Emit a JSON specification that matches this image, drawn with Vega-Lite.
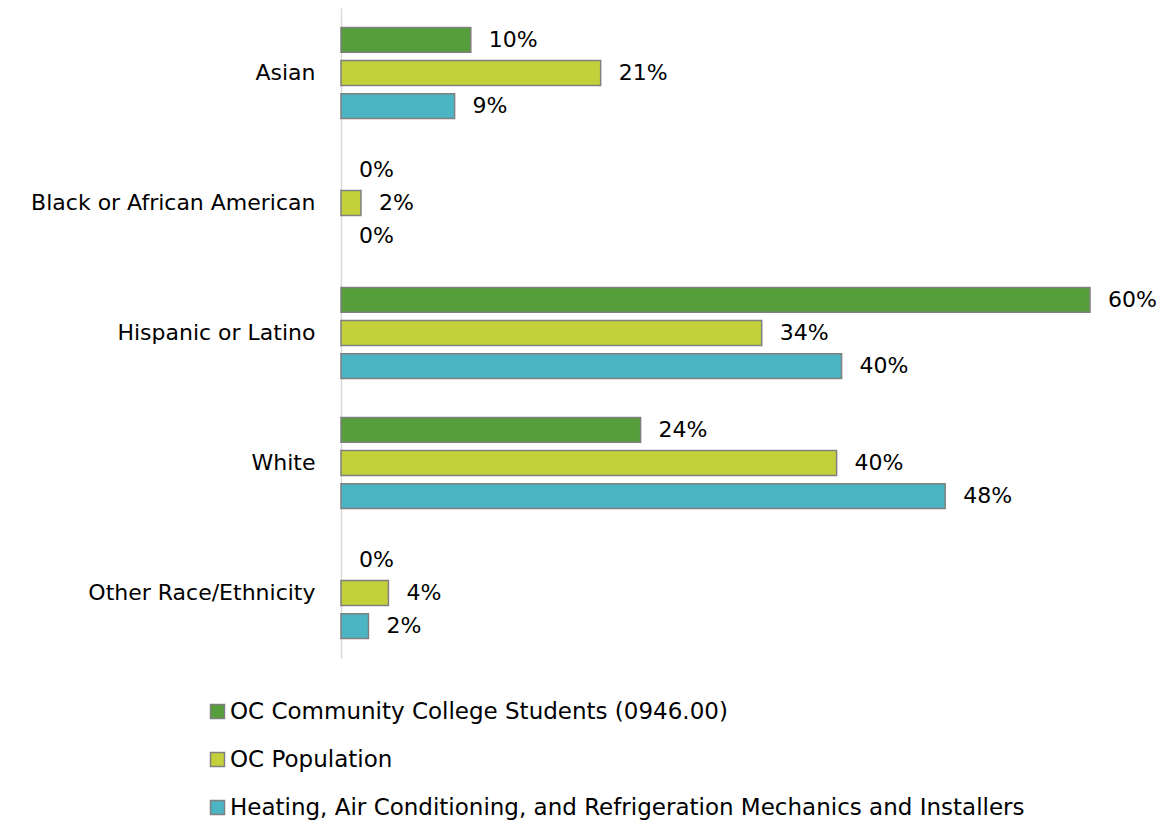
{
  "$schema": "https://vega.github.io/schema/vega-lite/v6.json",
  "width": 749,
  "height": 650,
  "autosize": "none",
  "padding": {"left": 341, "top": 8, "right": 78, "bottom": 162},
  "config": {"view": {"stroke": null}, "font": "DejaVu Sans"},
  "data": {
    "values": [
      {"category": "Asian", "series": "OC Community College Students (0946.00)", "value": 0.104},
      {"category": "Asian", "series": "OC Population", "value": 0.208},
      {"category": "Asian", "series": "Heating, Air Conditioning, and Refrigeration Mechanics and Installers", "value": 0.091},
      {"category": "Black or African American", "series": "OC Community College Students (0946.00)", "value": 0.0},
      {"category": "Black or African American", "series": "OC Population", "value": 0.016},
      {"category": "Black or African American", "series": "Heating, Air Conditioning, and Refrigeration Mechanics and Installers", "value": 0.0},
      {"category": "Hispanic or Latino", "series": "OC Community College Students (0946.00)", "value": 0.60},
      {"category": "Hispanic or Latino", "series": "OC Population", "value": 0.337},
      {"category": "Hispanic or Latino", "series": "Heating, Air Conditioning, and Refrigeration Mechanics and Installers", "value": 0.401},
      {"category": "White", "series": "OC Community College Students (0946.00)", "value": 0.240},
      {"category": "White", "series": "OC Population", "value": 0.397},
      {"category": "White", "series": "Heating, Air Conditioning, and Refrigeration Mechanics and Installers", "value": 0.484},
      {"category": "Other Race/Ethnicity", "series": "OC Community College Students (0946.00)", "value": 0.0},
      {"category": "Other Race/Ethnicity", "series": "OC Population", "value": 0.038},
      {"category": "Other Race/Ethnicity", "series": "Heating, Air Conditioning, and Refrigeration Mechanics and Installers", "value": 0.022}
    ]
  },
  "encoding": {
    "y": {
      "field": "category",
      "type": "nominal",
      "sort": ["Asian", "Black or African American", "Hispanic or Latino", "White", "Other Race/Ethnicity"],
      "scale": {"paddingInner": 0.25, "paddingOuter": 0.125},
      "axis": {"title": null, "ticks": false, "labelFontSize": 22, "labelPadding": 26, "domainColor": "#d9d9d9", "domainWidth": 1.5, "labelColor": "#000000", "labelLimit": 400}
    },
    "yOffset": {
      "field": "series",
      "sort": ["OC Community College Students (0946.00)", "OC Population", "Heating, Air Conditioning, and Refrigeration Mechanics and Installers"],
      "scale": {"paddingInner": 0.25, "paddingOuter": 0.1}
    },
    "x": {"field": "value", "type": "quantitative", "scale": {"domain": [0, 0.6]}, "axis": null}
  },
  "layer": [
    {
      "transform": [{"filter": "datum.value > 0"}],
      "mark": {"type": "bar", "stroke": "#808080", "strokeWidth": 1.5},
      "encoding": {
        "color": {
          "field": "series",
          "type": "nominal",
          "sort": ["OC Community College Students (0946.00)", "OC Population", "Heating, Air Conditioning, and Refrigeration Mechanics and Installers"],
          "scale": {"range": ["#559E3B", "#C4D03A", "#4BB5C4"]},
          "legend": {
            "orient": "none",
            "legendX": -135,
            "legendY": 692,
            "direction": "vertical",
            "title": null,
            "symbolType": "square",
            "symbolSize": 196,
            "symbolStrokeColor": "#808080",
            "symbolStrokeWidth": 1.5,
            "symbolOpacity": 1,
            "labelFontSize": 23,
            "labelColor": "#000000",
            "labelLimit": 1000,
            "labelOffset": 1,
            "rowPadding": 24
          }
        }
      }
    },
    {
      "mark": {"type": "text", "align": "left", "baseline": "middle", "dx": 18, "fontSize": 22, "color": "#000000"},
      "encoding": {"text": {"field": "value", "type": "quantitative", "format": ".0%"}}
    }
  ]
}
